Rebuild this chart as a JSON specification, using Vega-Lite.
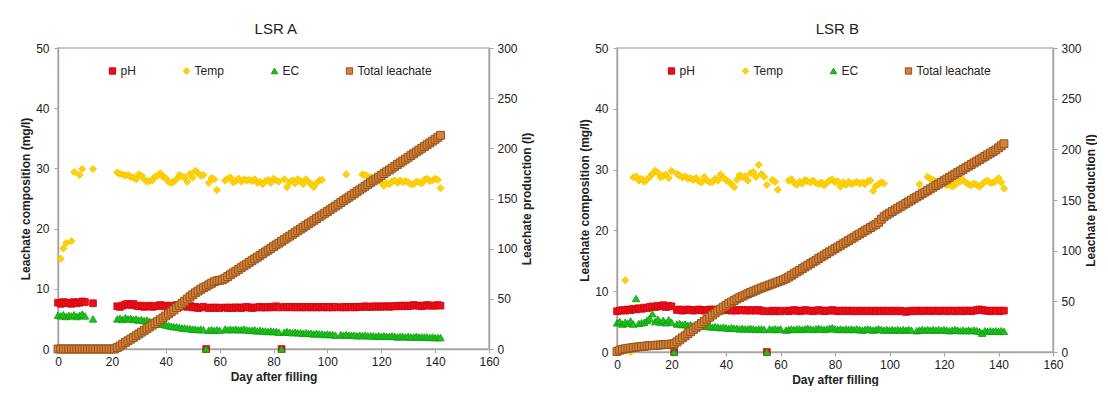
{
"$schema": "https://vega.github.io/schema/vega-lite/v6.json",
"background": "white",
"padding": {"left": 18, "top": 21, "right": 0, "bottom": 0},
"spacing": 44,
"config": {
  "font": "Liberation Sans",
  "view": {"stroke": "#b4b4b4", "strokeWidth": 1.5},
  "axis": {"domainColor": "#a6a6a6", "domainWidth": 1.5, "tickColor": "#a6a6a6", "tickSize": 4, "grid": false, "labelFlush": false, "labelFont": "Liberation Sans", "labelFontSize": 12, "labelColor": "#222222", "titleFont": "Liberation Sans", "titleFontSize": 12, "titleFontWeight": "bold", "titleColor": "#222222"},
  "axisX": {"labelPadding": 3, "titlePadding": 4},
  "axisLeft": {"labelPadding": 5, "titlePadding": 3},
  "axisRight": {"labelPadding": 4, "titlePadding": 4, "titleAngle": 270, "titleBaseline": "top"},
  "title": {"font": "Liberation Sans", "fontSize": 15, "fontWeight": "normal", "color": "#222222", "offset": 5, "frame": "bounds"},
  "legend": {"labelFont": "Liberation Sans", "labelFontSize": 12, "labelColor": "#222222", "symbolSize": 40, "labelOffset": 2, "columnPadding": 44, "gridAlign": "none", "padding": 0, "symbolStrokeWidth": 1, "symbolOpacity": 1}
},
"datasets": {
"A": [
{"d":0,"pH":7.7,"EC":5.6,"Total":0},
{"d":1,"pH":7.5,"Temp":15.0,"EC":5.5,"Total":0},
{"d":2,"pH":7.8,"Temp":16.7,"EC":5.7,"Total":0},
{"d":3,"pH":7.6,"Temp":17.6,"EC":5.4,"Total":0},
{"d":4,"pH":7.7,"Temp":0,"EC":5.6,"Total":0},
{"d":5,"pH":7.5,"Temp":17.9,"EC":5.5,"Total":0},
{"d":6,"pH":7.8,"Temp":29.4,"EC":5.7,"Total":0},
{"d":7,"pH":7.6,"EC":5.4,"Total":0},
{"d":8,"pH":7.7,"Temp":28.9,"EC":5.6,"Total":0},
{"d":9,"pH":7.9,"Temp":29.9,"EC":5.8,"Total":0},
{"d":10,"pH":7.8,"EC":5.5,"Total":0},
{"d":11,"Total":0},
{"d":12,"Total":0},
{"d":13,"pH":7.6,"Temp":29.9,"EC":5.0,"Total":0},
{"d":14,"EC":0,"Total":0},
{"d":15,"EC":0,"Total":0},
{"d":16,"EC":0,"Total":0},
{"d":17,"EC":0,"Total":0},
{"d":18,"EC":0,"Total":0},
{"d":19,"EC":0,"Total":0},
{"d":20,"EC":0,"Total":0},
{"d":21,"EC":0,"Total":0},
{"d":22,"pH":7.1,"Temp":29.3,"EC":5.0,"Total":1.5},
{"d":23,"pH":7.0,"Temp":29.1,"EC":5.1,"Total":3},
{"d":24,"pH":7.2,"Temp":29.0,"EC":4.9,"Total":4.8},
{"d":25,"pH":7.4,"Temp":28.8,"EC":5.2,"Total":6.5},
{"d":26,"pH":7.5,"Temp":28.9,"EC":5.0,"Total":8.2},
{"d":27,"pH":7.3,"Temp":28.6,"EC":5.1,"Total":9.8},
{"d":28,"pH":7.5,"Temp":28.5,"EC":4.9,"Total":11.5},
{"d":29,"pH":7.2,"Temp":28.2,"EC":5.0,"Total":13.2},
{"d":30,"pH":7.1,"Temp":29.0,"EC":4.8,"Total":15},
{"d":31,"pH":7.2,"Temp":28.8,"EC":4.9,"Total":16.8},
{"d":32,"pH":7.0,"Temp":28.2,"EC":4.7,"Total":18.5},
{"d":33,"pH":7.1,"Temp":27.8,"EC":4.8,"Total":20.2},
{"d":34,"pH":7.2,"Temp":27.9,"EC":4.6,"Total":22},
{"d":35,"pH":7.0,"Temp":28.0,"EC":4.5,"Total":23.8},
{"d":36,"pH":7.1,"Temp":28.6,"EC":4.4,"Total":25.5},
{"d":37,"pH":7.2,"Temp":28.8,"EC":4.3,"Total":27.4},
{"d":38,"pH":7.3,"Temp":29.2,"EC":4.1,"Total":29.2},
{"d":39,"pH":7.1,"Temp":28.6,"EC":4.2,"Total":31},
{"d":40,"pH":7.2,"Temp":28.4,"EC":4.0,"Total":33},
{"d":41,"pH":7.0,"Temp":27.8,"EC":3.9,"Total":35},
{"d":42,"pH":7.2,"Temp":27.6,"EC":3.8,"Total":37},
{"d":43,"pH":7.1,"Temp":27.8,"EC":3.7,"Total":39},
{"d":44,"pH":7.3,"Temp":28.2,"EC":3.7,"Total":41.2},
{"d":45,"pH":7.0,"Temp":28.9,"EC":3.6,"Total":43.2},
{"d":46,"pH":7.2,"Temp":28.7,"EC":3.5,"Total":45.4},
{"d":47,"pH":7.1,"Temp":28.5,"EC":3.5,"Total":47.6},
{"d":48,"pH":7.0,"Temp":27.8,"EC":3.4,"Total":49.8},
{"d":49,"pH":7.2,"Temp":29.1,"EC":3.4,"Total":52},
{"d":50,"pH":6.9,"Temp":28.5,"EC":3.3,"Total":54},
{"d":51,"pH":7.0,"Temp":29.6,"EC":3.3,"Total":56},
{"d":52,"pH":6.8,"Temp":29.2,"EC":3.2,"Total":57.8},
{"d":53,"pH":6.9,"Temp":28.8,"EC":3.3,"Total":59.5},
{"d":54,"pH":7.0,"Temp":28.9,"EC":3.2,"Total":61},
{"d":55,"pH":0,"EC":0,"Total":62.5},
{"d":56,"pH":6.8,"Temp":27.6,"EC":3.1,"Total":64},
{"d":57,"pH":6.9,"Temp":28.4,"EC":3.2,"Total":65.5},
{"d":58,"pH":6.8,"Temp":28.2,"EC":3.1,"Total":67},
{"d":59,"pH":6.9,"Temp":26.4,"EC":3.2,"Total":68},
{"d":60,"pH":6.8,"EC":3.1,"Total":68.5},
{"d":61,"Total":69},
{"d":62,"pH":6.9,"Temp":28.0,"EC":3.3,"Total":70.5},
{"d":63,"pH":6.8,"Temp":28.3,"EC":3.2,"Total":72.2},
{"d":64,"pH":6.9,"Temp":28.5,"EC":3.3,"Total":74},
{"d":65,"pH":6.8,"Temp":27.7,"EC":3.2,"Total":75.8},
{"d":66,"pH":6.9,"Temp":27.9,"EC":3.3,"Total":77.5},
{"d":67,"pH":6.9,"Temp":28.3,"EC":3.2,"Total":79.3},
{"d":68,"pH":6.8,"Temp":27.8,"EC":3.2,"Total":81},
{"d":69,"pH":6.9,"Temp":28.2,"EC":3.3,"Total":82.8},
{"d":70,"pH":7.0,"Temp":28.0,"EC":3.2,"Total":84.5},
{"d":71,"pH":6.9,"Temp":28.1,"EC":3.1,"Total":86.3},
{"d":72,"pH":6.8,"Temp":27.9,"EC":3.1,"Total":88},
{"d":73,"pH":6.9,"Temp":28.2,"EC":3.2,"Total":89.8},
{"d":74,"pH":6.9,"Temp":27.6,"EC":3.0,"Total":91.5},
{"d":75,"pH":7.0,"Temp":27.8,"EC":3.1,"Total":93.3},
{"d":76,"pH":6.9,"Temp":27.4,"EC":3.0,"Total":95},
{"d":77,"pH":6.9,"Temp":27.9,"EC":3.0,"Total":96.8},
{"d":78,"pH":7.0,"Temp":28.1,"EC":2.9,"Total":98.5},
{"d":79,"pH":6.9,"Temp":27.6,"EC":3.0,"Total":100.3},
{"d":80,"pH":7.0,"Temp":28.3,"EC":2.9,"Total":102},
{"d":81,"pH":7.1,"Temp":28.0,"EC":2.9,"Total":103.8},
{"d":82,"pH":6.9,"Temp":27.8,"EC":2.8,"Total":105.5},
{"d":83,"pH":0,"EC":0,"Total":107.3},
{"d":84,"pH":7.0,"Temp":28.2,"EC":2.8,"Total":109},
{"d":85,"pH":6.9,"Temp":26.9,"EC":2.9,"Total":110.8},
{"d":86,"pH":7.0,"Temp":27.7,"EC":2.8,"Total":112.5},
{"d":87,"pH":7.0,"Temp":28.0,"EC":2.7,"Total":114.3},
{"d":88,"pH":6.9,"Temp":27.5,"EC":2.8,"Total":116},
{"d":89,"pH":7.0,"Temp":28.2,"EC":2.7,"Total":117.8},
{"d":90,"pH":6.9,"Temp":27.9,"EC":2.7,"Total":119.5},
{"d":91,"pH":7.0,"Temp":27.4,"EC":2.6,"Total":121.3},
{"d":92,"pH":6.9,"Temp":28.2,"EC":2.7,"Total":123},
{"d":93,"pH":7.0,"Temp":27.8,"EC":2.6,"Total":124.8},
{"d":94,"pH":6.9,"Temp":27.3,"EC":2.6,"Total":126.5},
{"d":95,"pH":7.0,"Temp":26.9,"EC":2.5,"Total":128.3},
{"d":96,"pH":6.9,"Temp":27.6,"EC":2.6,"Total":130},
{"d":97,"pH":7.0,"Temp":28.0,"EC":2.5,"Total":131.8},
{"d":98,"pH":6.9,"Temp":28.1,"EC":2.5,"Total":133.5},
{"d":99,"pH":7.0,"EC":2.4,"Total":135.3},
{"d":100,"pH":6.9,"EC":2.5,"Total":137},
{"d":101,"pH":7.0,"EC":2.4,"Total":138.8},
{"d":102,"pH":6.9,"EC":2.4,"Total":140.6},
{"d":103,"pH":7.0,"EC":2.3,"Total":142.4},
{"d":104,"Total":144.2},
{"d":105,"pH":6.9,"EC":2.4,"Total":146},
{"d":106,"pH":7.0,"EC":2.3,"Total":147.8},
{"d":107,"pH":6.9,"Temp":29.0,"EC":2.4,"Total":149.6},
{"d":108,"pH":7.0,"EC":2.3,"Total":151.4},
{"d":109,"pH":7.0,"EC":2.3,"Total":153.2},
{"d":110,"pH":6.9,"EC":2.3,"Total":155},
{"d":111,"pH":7.0,"EC":2.2,"Total":156.8},
{"d":112,"pH":7.0,"EC":2.3,"Total":158.6},
{"d":113,"pH":7.0,"Temp":29.0,"EC":2.2,"Total":160.4},
{"d":114,"pH":7.1,"Temp":28.9,"EC":2.3,"Total":162.2},
{"d":115,"pH":7.0,"Temp":28.7,"EC":2.2,"Total":164},
{"d":116,"pH":7.0,"Temp":28.5,"EC":2.2,"Total":165.8},
{"d":117,"pH":7.1,"Temp":28.2,"EC":2.2,"Total":167.6},
{"d":118,"pH":7.0,"Temp":27.9,"EC":2.1,"Total":169.4},
{"d":119,"pH":7.1,"Temp":28.1,"EC":2.2,"Total":171.2},
{"d":120,"pH":7.0,"Temp":27.7,"EC":2.1,"Total":173},
{"d":121,"pH":7.1,"Temp":27.1,"EC":2.2,"Total":174.8},
{"d":122,"pH":7.1,"Temp":27.5,"EC":2.1,"Total":176.6},
{"d":123,"pH":7.0,"Temp":27.4,"EC":2.1,"Total":178.4},
{"d":124,"pH":7.1,"Temp":27.8,"EC":2.2,"Total":180.2},
{"d":125,"pH":7.1,"Temp":28.0,"EC":2.1,"Total":182},
{"d":126,"pH":7.1,"Temp":27.6,"EC":2.0,"Total":183.8},
{"d":127,"pH":7.2,"Temp":28.0,"EC":2.1,"Total":185.6},
{"d":128,"pH":7.1,"Temp":27.7,"EC":2.1,"Total":187.4},
{"d":129,"pH":7.2,"Temp":27.9,"EC":2.0,"Total":189.2},
{"d":130,"pH":7.1,"Temp":27.7,"EC":2.1,"Total":191},
{"d":131,"pH":7.2,"Temp":27.4,"EC":2.0,"Total":192.8},
{"d":132,"pH":7.3,"Temp":27.4,"EC":2.0,"Total":194.6},
{"d":133,"pH":7.2,"Temp":27.8,"EC":2.1,"Total":196.4},
{"d":134,"pH":7.2,"Temp":27.7,"EC":2.0,"Total":198.2},
{"d":135,"pH":7.1,"Temp":27.5,"EC":2.0,"Total":200},
{"d":136,"pH":7.2,"Temp":28.1,"EC":2.0,"Total":201.8},
{"d":137,"pH":7.3,"Temp":28.3,"EC":2.0,"Total":203.6},
{"d":138,"pH":7.2,"Temp":27.9,"EC":1.9,"Total":205.4},
{"d":139,"pH":7.2,"Temp":28.0,"EC":2.0,"Total":207.2},
{"d":140,"pH":7.2,"Temp":28.3,"EC":1.9,"Total":209},
{"d":141,"pH":7.3,"Temp":28.1,"EC":1.9,"Total":211},
{"d":142,"pH":7.2,"Temp":26.7,"EC":1.9,"Total":213}
],
"B": [
{"d":0,"pH":6.7,"EC":4.8,"Total":0.5},
{"d":1,"pH":6.8,"EC":5.0,"Total":1.8},
{"d":2,"pH":6.9,"EC":4.6,"Total":2.6},
{"d":3,"pH":6.8,"Temp":11.8,"EC":4.9,"Total":3.2},
{"d":4,"pH":7.0,"EC":4.7,"Total":3.6},
{"d":5,"pH":6.9,"Temp":0,"EC":5.1,"Total":4.0},
{"d":6,"pH":7.1,"Temp":28.7,"EC":4.6,"Total":4.4},
{"d":7,"pH":7.0,"Temp":28.9,"EC":8.8,"Total":4.8},
{"d":8,"pH":7.2,"Temp":28.2,"EC":4.7,"Total":5.1},
{"d":9,"pH":7.1,"Temp":28.5,"EC":4.8,"Total":5.4},
{"d":10,"pH":7.3,"Temp":28.0,"EC":4.9,"Total":5.7},
{"d":11,"pH":7.2,"Temp":28.4,"EC":5.2,"Total":6.0},
{"d":12,"pH":7.4,"Temp":28.8,"EC":5.5,"Total":6.2},
{"d":13,"pH":7.5,"Temp":29.3,"EC":6.3,"Total":6.4},
{"d":14,"pH":7.4,"Temp":29.8,"EC":5.0,"Total":6.6},
{"d":15,"pH":7.6,"Temp":29.5,"EC":5.4,"Total":6.8},
{"d":16,"pH":7.5,"Temp":28.7,"EC":4.9,"Total":7.0},
{"d":17,"pH":7.7,"Temp":29.0,"EC":5.2,"Total":7.2},
{"d":18,"pH":7.4,"Temp":29.2,"EC":4.8,"Total":7.4},
{"d":19,"pH":7.6,"Temp":28.6,"EC":5.3,"Total":7.6},
{"d":20,"pH":7.5,"Temp":29.8,"EC":4.9,"Total":7.8},
{"d":21,"pH":0,"EC":0,"Total":8.2},
{"d":22,"pH":6.9,"Temp":29.3,"EC":4.6,"Total":10},
{"d":23,"pH":7.0,"Temp":29.0,"EC":4.7,"Total":12},
{"d":24,"pH":6.8,"Temp":28.7,"EC":4.5,"Total":14},
{"d":25,"pH":6.9,"Temp":28.9,"EC":4.6,"Total":16},
{"d":26,"pH":7.0,"Temp":28.5,"EC":4.4,"Total":18},
{"d":27,"pH":6.9,"Temp":28.6,"EC":4.5,"Total":20},
{"d":28,"pH":6.8,"Temp":28.3,"EC":4.3,"Total":22},
{"d":29,"pH":6.9,"Temp":28.6,"EC":4.4,"Total":24},
{"d":30,"pH":7.0,"Temp":28.1,"EC":4.3,"Total":26},
{"d":31,"pH":6.9,"Temp":27.9,"EC":4.3,"Total":28.1},
{"d":32,"pH":6.8,"Temp":28.8,"EC":4.2,"Total":30.2},
{"d":33,"pH":6.9,"Temp":28.2,"EC":4.3,"Total":32.3},
{"d":34,"pH":7.0,"Temp":27.9,"EC":4.2,"Total":34.4},
{"d":35,"pH":6.9,"Temp":28.0,"EC":4.1,"Total":36.5},
{"d":36,"pH":7.0,"Temp":28.5,"EC":4.2,"Total":38.5},
{"d":37,"pH":6.9,"Temp":28.2,"EC":4.1,"Total":40.5},
{"d":38,"pH":6.8,"Temp":29.2,"EC":4.0,"Total":42.4},
{"d":39,"pH":6.9,"Temp":28.7,"EC":4.1,"Total":44.3},
{"d":40,"pH":7.0,"Temp":28.3,"EC":4.0,"Total":46},
{"d":41,"pH":6.9,"Temp":28.0,"EC":3.9,"Total":47.7},
{"d":42,"pH":6.8,"Temp":27.6,"EC":4.0,"Total":49.3},
{"d":43,"pH":6.9,"Temp":27.1,"EC":3.9,"Total":50.8},
{"d":44,"pH":6.8,"Temp":28.3,"EC":3.9,"Total":52.3},
{"d":45,"pH":6.9,"Temp":29.1,"EC":3.8,"Total":53.7},
{"d":46,"pH":6.9,"Temp":28.8,"EC":3.9,"Total":55},
{"d":47,"pH":6.8,"Temp":28.9,"EC":3.8,"Total":56.3},
{"d":48,"pH":6.9,"Temp":28.2,"EC":3.8,"Total":57.5},
{"d":49,"pH":6.8,"Temp":29.4,"EC":3.9,"Total":58.7},
{"d":50,"pH":6.9,"Temp":29.6,"EC":3.8,"Total":59.9},
{"d":51,"pH":6.8,"Temp":28.8,"EC":3.7,"Total":61},
{"d":52,"pH":6.9,"Temp":30.8,"EC":3.8,"Total":62.1},
{"d":53,"pH":6.8,"Temp":29.3,"EC":3.8,"Total":63.2},
{"d":54,"pH":6.7,"Temp":28.8,"EC":3.7,"Total":64.2},
{"d":55,"pH":0,"Temp":27.5,"EC":0,"Total":65.2},
{"d":56,"pH":6.7,"EC":3.8,"Total":66.2},
{"d":57,"pH":6.8,"Temp":28.3,"EC":3.7,"Total":67.2},
{"d":58,"pH":6.7,"Temp":28.0,"EC":3.8,"Total":68.2},
{"d":59,"pH":6.8,"Temp":26.7,"EC":3.7,"Total":69.2},
{"d":60,"pH":6.7,"EC":3.8,"Total":70.2},
{"d":61,"Total":71.2},
{"d":62,"pH":6.8,"EC":3.6,"Total":72.4},
{"d":63,"pH":6.7,"Temp":28.2,"EC":3.7,"Total":74},
{"d":64,"pH":6.8,"Temp":28.4,"EC":3.8,"Total":75.7},
{"d":65,"pH":6.9,"Temp":27.8,"EC":3.7,"Total":77.3},
{"d":66,"pH":6.8,"Temp":27.5,"EC":3.8,"Total":79},
{"d":67,"pH":6.7,"Temp":28.0,"EC":3.8,"Total":80.6},
{"d":68,"pH":6.8,"Temp":27.7,"EC":3.7,"Total":82.3},
{"d":69,"pH":6.9,"Temp":28.3,"EC":3.8,"Total":83.9},
{"d":70,"pH":6.8,"Temp":28.1,"EC":3.9,"Total":85.6},
{"d":71,"pH":6.8,"Temp":27.9,"EC":3.8,"Total":87.2},
{"d":72,"pH":6.7,"Temp":28.2,"EC":3.7,"Total":88.9},
{"d":73,"pH":6.8,"Temp":27.8,"EC":3.8,"Total":90.5},
{"d":74,"pH":6.9,"Temp":27.6,"EC":3.9,"Total":92.2},
{"d":75,"pH":6.8,"Temp":27.9,"EC":3.8,"Total":93.8},
{"d":76,"pH":6.7,"Temp":27.4,"EC":3.7,"Total":95.5},
{"d":77,"pH":6.8,"Temp":27.8,"EC":3.8,"Total":97.1},
{"d":78,"pH":6.8,"Temp":28.2,"EC":3.9,"Total":98.8},
{"d":79,"pH":6.9,"Temp":28.4,"EC":4.0,"Total":100.4},
{"d":80,"pH":6.8,"Temp":27.9,"EC":3.8,"Total":102},
{"d":81,"pH":6.7,"Temp":28.1,"EC":3.7,"Total":103.6},
{"d":82,"pH":6.8,"Temp":27.2,"EC":3.8,"Total":105.2},
{"d":83,"pH":6.8,"Temp":27.9,"EC":3.7,"Total":106.8},
{"d":84,"pH":6.7,"Temp":27.5,"EC":3.8,"Total":108.4},
{"d":85,"pH":6.8,"Temp":28.0,"EC":3.7,"Total":110},
{"d":86,"pH":6.8,"Temp":27.6,"EC":3.8,"Total":111.6},
{"d":87,"pH":6.7,"Temp":27.8,"EC":3.7,"Total":113.2},
{"d":88,"pH":6.8,"Temp":28.0,"EC":3.8,"Total":114.8},
{"d":89,"pH":6.7,"Temp":27.7,"EC":3.7,"Total":116.4},
{"d":90,"pH":6.8,"Temp":27.9,"EC":3.6,"Total":118},
{"d":91,"pH":6.7,"Temp":27.6,"EC":3.7,"Total":119.6},
{"d":92,"pH":6.8,"Temp":28.1,"EC":3.8,"Total":121.2},
{"d":93,"pH":6.7,"Temp":28.2,"EC":3.7,"Total":122.8},
{"d":94,"pH":6.8,"Temp":26.5,"EC":3.6,"Total":124.4},
{"d":95,"pH":6.7,"Temp":27.3,"EC":3.7,"Total":126},
{"d":96,"pH":6.8,"Temp":27.6,"EC":3.8,"Total":128},
{"d":97,"pH":6.7,"Temp":27.9,"EC":3.7,"Total":131},
{"d":98,"pH":6.8,"Temp":27.7,"EC":3.6,"Total":133.5},
{"d":99,"pH":6.7,"EC":3.7,"Total":135.3},
{"d":100,"pH":6.8,"EC":3.6,"Total":137},
{"d":101,"pH":6.7,"EC":3.7,"Total":138.6},
{"d":102,"pH":6.8,"EC":3.6,"Total":140.2},
{"d":103,"pH":6.7,"EC":3.7,"Total":141.8},
{"d":104,"pH":6.8,"EC":3.6,"Total":143.4},
{"d":105,"pH":6.7,"EC":3.7,"Total":145},
{"d":106,"pH":6.6,"EC":3.6,"Total":146.6},
{"d":107,"pH":6.7,"EC":3.7,"Total":148.2},
{"d":108,"pH":6.8,"EC":3.6,"Total":149.8},
{"d":109,"pH":6.7,"Total":151.4},
{"d":110,"pH":6.8,"EC":3.5,"Total":153},
{"d":111,"pH":6.8,"Temp":27.6,"EC":3.6,"Total":154.6},
{"d":112,"pH":6.7,"EC":3.7,"Total":156.2},
{"d":113,"pH":6.8,"EC":3.6,"Total":157.8},
{"d":114,"pH":6.8,"Temp":28.8,"EC":3.7,"Total":159.4},
{"d":115,"pH":6.7,"Temp":28.5,"EC":3.6,"Total":161},
{"d":116,"pH":6.8,"Temp":28.3,"EC":3.7,"Total":162.6},
{"d":117,"pH":6.8,"Temp":28.0,"EC":3.6,"Total":164.2},
{"d":118,"pH":6.7,"Temp":27.8,"EC":3.7,"Total":165.8},
{"d":119,"pH":6.8,"Temp":28.1,"EC":3.6,"Total":167.4},
{"d":120,"pH":6.8,"Temp":27.9,"EC":3.7,"Total":169},
{"d":121,"pH":6.7,"Temp":27.4,"EC":3.6,"Total":170.6},
{"d":122,"pH":6.8,"Temp":27.6,"EC":3.5,"Total":172.2},
{"d":123,"pH":6.8,"Temp":27.2,"EC":3.6,"Total":173.8},
{"d":124,"pH":6.7,"Temp":27.5,"EC":3.7,"Total":175.4},
{"d":125,"pH":6.8,"Temp":27.8,"EC":3.6,"Total":177},
{"d":126,"pH":6.8,"Temp":28.1,"EC":3.5,"Total":178.6},
{"d":127,"pH":6.7,"Temp":28.3,"EC":3.6,"Total":180.2},
{"d":128,"pH":6.8,"Temp":27.9,"EC":3.5,"Total":181.8},
{"d":129,"pH":6.8,"Temp":27.6,"EC":3.6,"Total":183.4},
{"d":130,"pH":6.7,"Temp":27.4,"EC":3.5,"Total":185},
{"d":131,"pH":6.8,"Temp":27.7,"EC":3.6,"Total":186.6},
{"d":132,"pH":6.9,"Temp":27.5,"EC":3.5,"Total":188.2},
{"d":133,"pH":7.0,"Temp":27.2,"EC":3.4,"Total":189.8},
{"d":134,"pH":6.9,"Temp":27.6,"EC":3.1,"Total":191.4},
{"d":135,"pH":6.8,"Temp":28.0,"EC":3.5,"Total":193},
{"d":136,"pH":6.8,"Temp":28.2,"EC":3.4,"Total":194.6},
{"d":137,"pH":6.7,"Temp":27.8,"EC":3.5,"Total":196.2},
{"d":138,"pH":6.8,"Temp":27.9,"EC":3.4,"Total":197.8},
{"d":139,"pH":6.8,"Temp":28.1,"EC":3.5,"Total":199.4},
{"d":140,"pH":6.7,"Temp":28.6,"EC":3.4,"Total":201.5},
{"d":141,"pH":6.8,"Temp":27.9,"EC":3.5,"Total":203.5},
{"d":142,"pH":6.8,"Temp":26.9,"EC":3.4,"Total":205.5}
]
},
"hconcat": [
{
  "title": "LSR A",
  "width": 431, "height": 301,
  "data": {"name": "A"},
  "transform": [{"fold": ["pH", "Temp", "EC", "Total"], "as": ["series", "value"]}],
  "encoding": {
    "x": {"field": "d", "type": "quantitative", "scale": {"domain": [0, 160], "nice": false}, "axis": {"title": "Day after filling", "values": [0, 20, 40, 60, 80, 100, 120, 140, 160]}},
    "color": {"field": "series", "type": "nominal", "scale": {"domain": ["pH", "Temp", "EC", "Total"], "range": ["#e8101a", "#ffd200", "#1cc41c", "#d4843a"]}, "legend": {"title": null, "orient": "none", "legendX": 48.5, "legendY": 17, "direction": "horizontal", "columns": 4, "labelExpr": "datum.label == 'Total' ? 'Total leachate' : datum.label"}},
    "shape": {"field": "series", "type": "nominal", "scale": {"domain": ["pH", "Temp", "EC", "Total"], "range": ["square", "diamond", "triangle-up", "square"]}},
    "stroke": {"field": "series", "type": "nominal", "scale": {"domain": ["pH", "Temp", "EC", "Total"], "range": ["#d4000c", "#f2c200", "#0d9a0d", "#95501a"]}},
    "size": {"field": "series", "type": "ordinal", "scale": {"domain": ["pH", "Temp", "EC", "Total"], "range": [46, 62, 50, 46]}, "legend": null}
  },
  "layer": [
    {
      "transform": [{"filter": {"field": "series", "oneOf": ["pH", "Temp", "EC"]}}],
      "mark": {"type": "point", "filled": true, "opacity": 1, "strokeWidth": 0.8},
      "encoding": {"y": {"field": "value", "type": "quantitative", "scale": {"domain": [0, 50], "nice": false}, "axis": {"title": "Leachate composition (mg/l)", "values": [0, 10, 20, 30, 40, 50]}}}
    },
    {
      "transform": [{"filter": {"field": "series", "equal": "Total"}}],
      "mark": {"type": "point", "filled": true, "opacity": 1, "strokeWidth": 1},
      "encoding": {"y": {"field": "value", "type": "quantitative", "scale": {"domain": [0, 300], "nice": false}, "axis": {"orient": "right", "title": "Leachate production (l)", "values": [0, 50, 100, 150, 200, 250, 300]}}}
    }
  ],
  "resolve": {"scale": {"y": "independent"}}
},
{
  "title": "LSR B",
  "width": 436, "height": 304,
  "data": {"name": "B"},
  "transform": [{"fold": ["pH", "Temp", "EC", "Total"], "as": ["series", "value"]}],
  "encoding": {
    "x": {"field": "d", "type": "quantitative", "scale": {"domain": [0, 160], "nice": false}, "axis": {"title": "Day after filling", "values": [0, 20, 40, 60, 80, 100, 120, 140, 160]}},
    "color": {"field": "series", "type": "nominal", "scale": {"domain": ["pH", "Temp", "EC", "Total"], "range": ["#e8101a", "#ffd200", "#1cc41c", "#d4843a"]}, "legend": {"title": null, "orient": "none", "legendX": 48.5, "legendY": 17, "direction": "horizontal", "columns": 4, "labelExpr": "datum.label == 'Total' ? 'Total leachate' : datum.label"}},
    "shape": {"field": "series", "type": "nominal", "scale": {"domain": ["pH", "Temp", "EC", "Total"], "range": ["square", "diamond", "triangle-up", "square"]}},
    "stroke": {"field": "series", "type": "nominal", "scale": {"domain": ["pH", "Temp", "EC", "Total"], "range": ["#d4000c", "#f2c200", "#0d9a0d", "#95501a"]}},
    "size": {"field": "series", "type": "ordinal", "scale": {"domain": ["pH", "Temp", "EC", "Total"], "range": [46, 62, 50, 46]}, "legend": null}
  },
  "layer": [
    {
      "transform": [{"filter": {"field": "series", "oneOf": ["pH", "Temp", "EC"]}}],
      "mark": {"type": "point", "filled": true, "opacity": 1, "strokeWidth": 0.8},
      "encoding": {"y": {"field": "value", "type": "quantitative", "scale": {"domain": [0, 50], "nice": false}, "axis": {"title": "Leachate composition (mg/l)", "values": [0, 10, 20, 30, 40, 50]}}}
    },
    {
      "transform": [{"filter": {"field": "series", "equal": "Total"}}],
      "mark": {"type": "point", "filled": true, "opacity": 1, "strokeWidth": 1},
      "encoding": {"y": {"field": "value", "type": "quantitative", "scale": {"domain": [0, 300], "nice": false}, "axis": {"orient": "right", "title": "Leachate production (l)", "values": [0, 50, 100, 150, 200, 250, 300]}}}
    }
  ],
  "resolve": {"scale": {"y": "independent"}}
}
],
"resolve": {"legend": {"color": "independent", "shape": "independent", "stroke": "independent"}}
}
